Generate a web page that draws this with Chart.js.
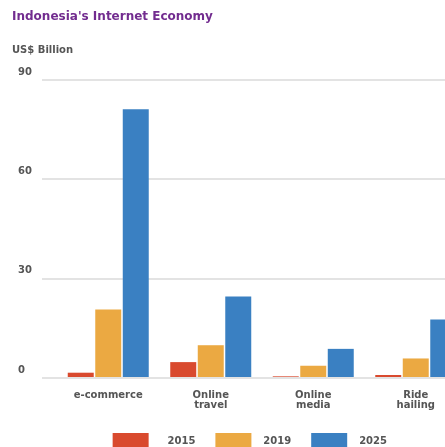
<!DOCTYPE html>
<html>
<head>
<meta charset="utf-8">
<script src="https://cdn.jsdelivr.net/npm/chart.js@4"></script>
<style>
  html, body { margin: 0; padding: 0; width: 445px; height: 447px; overflow: hidden; background: #fff; }
  #wrap { position: relative; width: 445px; height: 447px; overflow: hidden; }
  canvas { position: absolute; left: 0; top: 0; }
  .title { position: absolute; left: 12px; top: 9px; font: bold 12px "DejaVu Sans"; color: #722c8f; white-space: nowrap; }
  .unit { position: absolute; left: 12px; top: 44px; font: bold 10px "DejaVu Sans"; color: #555; white-space: nowrap; }
</style>
</head>
<body>
<div id="wrap">
  <canvas id="BarChart" width="480" height="459"></canvas>
  <div class="title">Indonesia's Internet Economy</div>
  <div class="unit">US$ Billion</div>
</div>
<script>
// data block
const categories = ['e-commerce', ['Online', 'travel'], ['Online', 'media'], ['Ride', 'hailing']];
const years = ['2015', '2019', '2025'];
const values2015 = [1.6, 4.8, 0.5, 0.9];
const values2019 = [20.7, 9.9, 3.7, 5.9];
const values2025 = [81.2, 24.6, 8.8, 17.7];
const yTicks = [0, 30, 60, 90];

const colors = ['#d94a2e', '#eba942', '#3a80c2'];
const gridColor = '#e3e3e3';
const labelFont = { family: 'DejaVu Sans', size: 10, weight: 'bold' };

const data = {
    labels: categories,
    datasets: [values2015, values2019, values2025].map((vals, i) => ({
        label: years[i],
        data: vals,
        backgroundColor: colors[i],
        borderWidth: 0,
        categoryPercentage: 0.805,
        barPercentage: 0.945
    }))
};

// legend spacing tweaks (gap after box, shift of whole row)
const legendText = ['    2015', '  2019', '  2025       '];

const config = {
    type: 'bar',
    data,
    options: {
        responsive: false,
        animation: false,
        layout: { padding: { left: 18, right: 13, top: 80, bottom: 0 } },
        scales: {
            x: {
                clip: false,
                grid: { display: false, drawTicks: false },
                border: { display: false },
                afterFit: scale => { scale.height = 35; },
                ticks: {
                    color: '#555',
                    font: { ...labelFont, lineHeight: 1.05 },
                    padding: 12,
                    maxRotation: 0,
                    autoSkip: false
                }
            },
            y: {
                min: 0,
                max: 90,
                afterBuildTicks: scale => {
                    scale.ticks = yTicks.map(v => ({ value: v }));
                },
                afterFit: scale => { scale.width = 39; },
                grid: {
                    color: gridColor,
                    lineWidth: 2,
                    drawTicks: true,
                    tickLength: 15,
                    tickColor: gridColor
                },
                border: { display: false },
                ticks: {
                    color: '#555',
                    font: labelFont,
                    crossAlign: 'far',
                    labelOffset: -8
                }
            }
        },
        plugins: {
            legend: {
                position: 'bottom',
                fullSize: false,
                labels: {
                    boxWidth: 36,
                    boxHeight: 16,
                    padding: 20,
                    color: '#555',
                    font: labelFont,
                    generateLabels: chart => {
                        const items = Chart.defaults.plugins.legend.labels.generateLabels(chart);
                        items.forEach((it, i) => { it.text = legendText[i]; it.lineWidth = 0; });
                        return items;
                    }
                }
            },
            tooltip: { enabled: false }
        }
    }
};

const barChart = new Chart(document.getElementById('BarChart'), config);
</script>
</body>
</html>
